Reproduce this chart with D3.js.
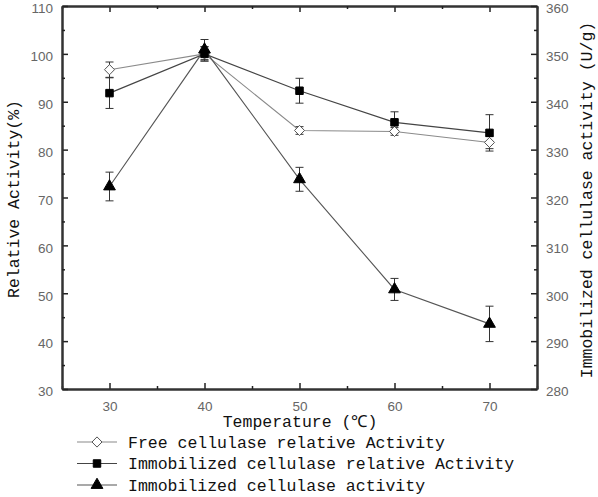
<!DOCTYPE html>
<html><head><meta charset="utf-8">
<script src="https://cdn.jsdelivr.net/npm/d3@7"></script>
<style>body{margin:0;background:#fff}</style>
</head><body>
<script>
const temps = [30, 40, 50, 60, 70];
const freeRel = [96.7, 100, 84.0, 83.8, 81.5];
const freeErr = [1.6, 1.5, 0.8, 0.8, 1.3];
const immRel = [91.8, 100, 92.3, 85.7, 83.5];
const immRelErr = [3.2, 1.5, 2.6, 2.2, 3.8];
const immAct = [322.3, 350.9, 323.8, 300.8, 293.6];
const immActErr = [3.0, 2.1, 2.5, 2.3, 3.7];
const xTicks = [30, 40, 50, 60, 70];
const yLeftTicks = [30, 40, 50, 60, 70, 80, 90, 100, 110];
const yRightTicks = [280, 290, 300, 310, 320, 330, 340, 350, 360];
const legendLabels = ["Free cellulase relative Activity", "Immobilized cellulase relative Activity", "Immobilized cellulase activity"];

const W = 598, H = 497;
const L = 62, R = 537, T = 6, B = 389;
const svg = d3.select("body").append("svg").attr("width", W).attr("height", H);
const x = d3.scaleLinear().domain([25, 75]).range([L, R]);
const yL = d3.scaleLinear().domain([30, 110]).range([B, T]);
const yR = d3.scaleLinear().domain([280, 360]).range([B, T]);

const tickFont = "Liberation Sans, Arial, sans-serif";
const titleFont = "'Liberation Mono', 'DejaVu Sans Mono', monospace";
const axisColor = "#333";

function styleAxis(g) {
  g.select(".domain").attr("stroke", axisColor).attr("stroke-width", 2);
  g.selectAll(".tick line").attr("stroke", "#222").attr("stroke-width", 1.5);
  g.selectAll(".tick text").attr("fill", "#666").attr("font-family", tickFont).attr("font-size", 13.5);
}
const minorX = d3.range(25, 76, 5).filter(v => v % 10 !== 0);
const minorYL = d3.range(35, 110, 10);
const minorYR = d3.range(285, 360, 10);

const gx = svg.append("g").attr("transform", `translate(0,${B})`)
  .call(d3.axisBottom(x).tickValues(xTicks).tickSize(-6).tickPadding(12).tickSizeOuter(0));
styleAxis(gx);
gx.selectAll(".tick text").attr("dy", "0.71em");
svg.append("g").attr("transform", `translate(0,${B})`)
  .call(d3.axisBottom(x).tickValues(minorX).tickSize(-3).tickFormat("").tickSizeOuter(0))
  .call(styleAxis);
svg.append("g").attr("transform", `translate(0,${T})`)
  .call(d3.axisTop(x).tickValues(xTicks).tickSize(-6).tickFormat("").tickSizeOuter(0))
  .call(styleAxis);
svg.append("g").attr("transform", `translate(0,${T})`)
  .call(d3.axisTop(x).tickValues(minorX).tickSize(-3).tickFormat("").tickSizeOuter(0))
  .call(styleAxis);

const gyl = svg.append("g").attr("transform", `translate(${L},0)`)
  .call(d3.axisLeft(yL).tickValues(yLeftTicks).tickSize(-6).tickPadding(9).tickSizeOuter(0));
styleAxis(gyl);
gyl.selectAll(".tick text").attr("dy", "0.5em");
svg.append("g").attr("transform", `translate(${L},0)`)
  .call(d3.axisLeft(yL).tickValues(minorYL).tickSize(-3).tickFormat("").tickSizeOuter(0))
  .call(styleAxis);
const gyr = svg.append("g").attr("transform", `translate(${R},0)`)
  .call(d3.axisRight(yR).tickValues(yRightTicks).tickSize(-6).tickPadding(9).tickSizeOuter(0));
styleAxis(gyr);
gyr.selectAll(".tick text").attr("dy", "0.5em");
svg.append("g").attr("transform", `translate(${R},0)`)
  .call(d3.axisRight(yR).tickValues(minorYR).tickSize(-3).tickFormat("").tickSizeOuter(0))
  .call(styleAxis);

// series
const series = [
  {vals: freeRel, err: freeErr, y: yL, sym: d3.symbolDiamond, size: 30, fill: "#fff", stroke: "#555", line: "#8a8a8a", sx: 1.7},
  {vals: immRel, err: immRelErr, y: yL, sym: d3.symbolSquare, size: 56, fill: "#000", stroke: "#000", line: "#444", sx: 1},
  {vals: immAct, err: immActErr, y: yR, sym: d3.symbolTriangle, size: 60, fill: "#000", stroke: "#000", line: "#555", sx: 1}
];
series.forEach(s => {
  const pts = temps.map((t, i) => ({t, v: s.vals[i], e: s.err[i]}));
  svg.append("path").datum(pts)
    .attr("fill", "none").attr("stroke", s.line).attr("stroke-width", 1.1)
    .attr("d", d3.line().x(d => x(d.t)).y(d => s.y(d.v)));
  const eb = svg.append("g").attr("stroke", "#333").attr("stroke-width", 1);
  pts.forEach(d => {
    eb.append("line").attr("x1", x(d.t)).attr("x2", x(d.t)).attr("y1", s.y(d.v - d.e)).attr("y2", s.y(d.v + d.e));
    [d.v - d.e, d.v + d.e].forEach(v => eb.append("line").attr("x1", x(d.t) - 4).attr("x2", x(d.t) + 4).attr("y1", s.y(v)).attr("y2", s.y(v)));
  });
});
series.forEach(s => {
  temps.forEach((t, i) => {
    svg.append("path").attr("d", d3.symbol().type(s.sym).size(s.size)())
      .attr("transform", `translate(${x(t)},${s.y(s.vals[i])}) scale(${s.sx},1)`)
      .attr("fill", s.fill).attr("stroke", s.stroke).attr("stroke-width", 1).attr("vector-effect", "non-scaling-stroke");
  });
});

// titles
svg.append("text").attr("x", 300).attr("y", 427).attr("text-anchor", "middle")
  .attr("font-family", titleFont).attr("font-size", 16.5).attr("fill", "#111").text("Temperature (℃)");
svg.append("text").attr("transform", "translate(19,199) rotate(-90)").attr("text-anchor", "middle")
  .attr("font-family", titleFont).attr("font-size", 16.5).attr("fill", "#111").text("Relative Activity(%)");
svg.append("text").attr("transform", "translate(592,200) rotate(-90)").attr("text-anchor", "middle")
  .attr("font-family", titleFont).attr("font-size", 16.5).attr("fill", "#111").text("Immobilized cellulase activity (U/g)");

// legend
const lg = svg.append("g");
legendLabels.forEach((lab, i) => {
  const s = series[i];
  const yy = 442 + i * 21.5;
  lg.append("line").attr("x1", 77).attr("x2", 117).attr("y1", yy).attr("y2", yy).attr("stroke", s.line).attr("stroke-width", 1.1);
  lg.append("path").attr("d", d3.symbol().type(s.sym).size(s.size)())
    .attr("transform", `translate(97,${yy}) scale(${s.sx},1)`)
    .attr("fill", s.fill).attr("stroke", s.stroke).attr("stroke-width", 1).attr("vector-effect", "non-scaling-stroke");
  lg.append("text").attr("x", 128).attr("y", yy + 5.5)
    .attr("font-family", titleFont).attr("font-size", 16.5).attr("fill", "#111").text(lab);
});
</script>
</body></html>
